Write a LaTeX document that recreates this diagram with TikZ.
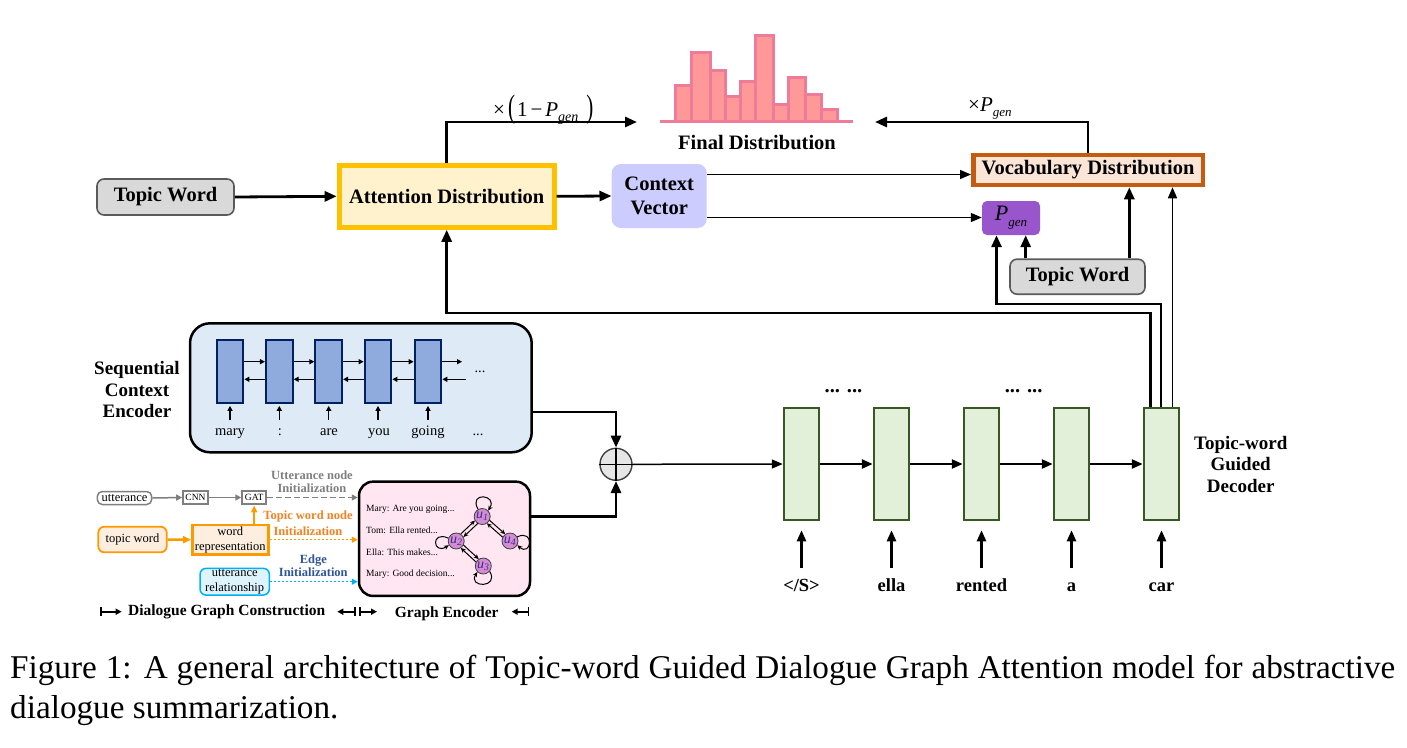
\documentclass[tikz,border=0pt]{standalone}
\usepackage{fontspec}
\setmainfont{Liberation Serif}
\usetikzlibrary{arrows.meta,calc}
\newcommand{\myfs}[2]{\fontsize{#1}{#2}\selectfont}
\definecolor{twfill}{HTML}{D9D9D9}
\definecolor{twdraw}{HTML}{5A5A5A}
\definecolor{attdraw}{HTML}{FFC000}
\definecolor{attfill}{HTML}{FFF2CC}
\definecolor{ctxfill}{HTML}{CCCCFF}
\definecolor{vocdraw}{HTML}{C55A11}
\definecolor{vocfill}{HTML}{FBE5D6}
\definecolor{pgenfill}{HTML}{9955CC}
\definecolor{histfill}{HTML}{FF9999}
\definecolor{histdraw}{HTML}{EE7B98}
\definecolor{encfill}{HTML}{DEEBF7}
\definecolor{cellfill}{HTML}{8FAADC}
\definecolor{celldraw}{HTML}{002060}
\definecolor{gencfill}{HTML}{FFE6F0}
\definecolor{dfill}{HTML}{E2F0D9}
\definecolor{ddraw}{HTML}{385723}
\definecolor{circfill}{HTML}{E7E6E6}
\definecolor{grayseven}{HTML}{7F7F7F}
\definecolor{orng}{HTML}{FF9900}
\definecolor{orngtxt}{HTML}{F5821F}
\definecolor{orngfill}{HTML}{FDEEDF}
\definecolor{cyanb}{HTML}{00B0F0}
\definecolor{cyanfill}{HTML}{DDF4FC}
\definecolor{edgetxt}{HTML}{2F5597}
\definecolor{unode}{HTML}{D38CD3}
\definecolor{utxt}{HTML}{3B2C8A}
\begin{document}
\begin{tikzpicture}[x=1pt,y=-1pt,
  bf/.style={font=\bfseries\myfs{20.5}{24}},
  bfs/.style={font=\bfseries\myfs{19}{21.6}, align=center},
  arr/.style={line width=2.8pt,-{Triangle[length=12pt,width=10pt]}},
  marr/.style={line width=2.4pt,-{Triangle[length=11pt,width=9pt]}},
  tarr/.style={line width=1.5pt,-{Triangle[length=11pt,width=9pt]}},
  sarr/.style={line width=1.4pt,-{Triangle[length=5pt,width=5pt]}},
  garr/.style={line width=1pt,-{Stealth[length=5pt,width=4.5pt]}},
  carr/.style={line width=1.5pt,-{Triangle[length=6pt,width=6pt]}},
  twbox/.style={bf, draw=twdraw, fill=twfill, line width=1.6pt, rounded corners=7pt, inner sep=0pt},
  ecell/.style={draw=celldraw, fill=cellfill, line width=2pt, minimum width=26.7pt, minimum height=63.3pt, inner sep=0pt},
  dcell/.style={draw=ddraw, fill=dfill, line width=2.5pt, minimum width=35pt, minimum height=112pt, inner sep=0pt},
  wd/.style={font=\myfs{14.5}{16}, inner sep=1pt},
  dw/.style={font=\bfseries\myfs{18.5}{20}, inner sep=1pt, anchor=base},
  gtxt/.style={font=\myfs{9.5}{11}, anchor=base west, inner sep=0pt},
  unodest/.style={circle, draw=black!75, fill=unode, line width=0.8pt, minimum size=16pt, inner sep=0pt, font=\myfs{14}{14}\itshape, text=utxt},
  small/.style={font=\myfs{12.5}{15}, inner sep=0pt, align=center},
  histline/.style={draw=histdraw, line width=3pt},
  scalemark/.style={line width=1.6pt}
]
\useasboundingbox (0,0) rectangle (1407,747);
\fill[white] (0,0) rectangle (1407,747);

% ---------- histogram ----------
\foreach \xa/\xb/\t in {675.7/691.7/85.7, 691.7/710/52.3, 710/725/70, 725/740/96, 740/755.7/81, 755.7/773.3/35.7, 773.3/788.3/104, 788.3/805/77.3, 805/821/94, 821/837.3/109}
  \draw[histline, fill=histfill] (\xa,121) rectangle (\xb,\t);
\draw[histline] (660,121) -- (853,121);
\node[bf] (fd) at (757,143) {Final Distribution};

% ---------- top row ----------
\node[twbox, minimum width=137pt, minimum height=36pt] (tw1) at (165.5,197) {Topic Word};
\node[bf, draw=attdraw, fill=attfill, line width=5pt, minimum width=215pt, minimum height=62pt, inner sep=0pt] (att) at (446.7,196.3) {Attention Distribution};
\node[bf, fill=ctxfill, rounded corners=9pt, minimum width=95pt, minimum height=64pt, align=center, inner sep=0pt] (ctx) at (659.2,196) {Context\\Vector};
\node[bf, draw=vocdraw, fill=vocfill, line width=4.5pt, minimum width=229.5pt, minimum height=30pt, inner sep=0pt] (voc) at (1088,170) {Vocabulary Distribution};
\node[fill=pgenfill, rounded corners=5pt, minimum width=58pt, minimum height=34pt, inner sep=0pt] (pgen) at (1011,218) {\myfs{22}{22}\textit{P}\raisebox{-6pt}{\myfs{13}{13}\textit{gen}}};
\node[twbox, minimum width=135pt, minimum height=35pt] (tw2) at (1077.5,276.7) {Topic Word};

\coordinate (fdl) at (637,122);
\coordinate (fdr) at (875,122);
\draw[arr] (tw1.east) -- (att.west);
\draw[arr] (att.east) -- (ctx.west);
\draw[arr] (att.north) |- (fdl);
\draw[arr] (voc.north) |- (fdr);
\node[anchor=base west, inner sep=0pt] (lab1) at (493,116) {\myfs{21}{21}×\hspace{3pt}\raisebox{-1.5pt}{\scalebox{1}[1.55]{(}}\hspace{2pt}1\hspace{3pt}−\hspace{3pt}\textit{P}\raisebox{-5pt}{\myfs{14}{14}\textit{gen}}\hspace{8pt}\raisebox{-1.5pt}{\scalebox{1}[1.55]{)}}};
\node[anchor=base west, inner sep=0pt] (lab2) at (968,111) {\myfs{21}{21}×\textit{P}\raisebox{-5pt}{\myfs{13}{13}\textit{gen}}};

\draw[tarr] (ctx.east |- 0,174.5) -- (voc.west |- 0,174.5);
\draw[tarr] (ctx.east |- 0,217.5) -- (pgen.west |- 0,217.5);
\coordinate (tpx) at (1025.7,0);
\coordinate (tvx) at (1129.3,0);
\draw[arr] (tpx |- tw2.north) -- (tpx |- pgen.south);
\draw[arr] (tvx |- tw2.north) -- (tvx |- voc.south);

% ---------- sequential context encoder ----------
\node[draw=black, fill=encfill, line width=2.5pt, rounded corners=20pt, minimum width=341.7pt, minimum height=129pt] (enc) at (360.85,387.8) {};
\foreach \i/\x in {1/230,2/279.3,3/328.7,4/378,5/428}
  \node[ecell] (c\i) at (\x,371.7) {};
\foreach \i/\j in {1/2,2/3,3/4,4/5} {
  \draw[sarr] ([yshift=10pt]c\i.east) -- ([yshift=10pt]c\j.west);
  \draw[sarr] ([yshift=-7.6pt]c\j.west) -- ([yshift=-7.6pt]c\i.east);
}
\coordinate (ef) at (462,361.7);
\coordinate (eb) at (465.5,379.3);
\draw[sarr] ([yshift=10pt]c5.east) -- (ef);
\draw[sarr] (eb) -- ([yshift=-7.6pt]c5.east);
\node[wd, anchor=base] (edots) at (480,372) {...};
\foreach \i/\x/\w in {1/230/mary,2/280/:,3/329/are,4/379/you,5/428/going} {
  \node[wd, anchor=base] (w\i) at (\x,435) {\w};
  \draw[sarr] ([yshift=-16pt]c\i.south) -- ([yshift=-1.5pt]c\i.south);
}
\node[wd, anchor=base] (w6) at (478,435) {...};
\node[bfs] (sce) at (137,389.5) {Sequential\\Context\\Encoder};

% ---------- graph encoder ----------
\node[draw=black, fill=gencfill, line width=2.5pt, rounded corners=14pt, minimum width=171pt, minimum height=114.3pt] (genc) at (444.5,538.8) {};
\node[gtxt] (g1) at (366,511) {Mary: Are you going...};
\node[gtxt] (g2) at (366,533.5) {Tom: Ella rented...};
\node[gtxt] (g3) at (366,555) {Ella: This makes...};
\node[gtxt] (g4) at (366,576) {Mary: Good decision...};
\node[unodest] (u1) at (482.2,516.5) {u\textsubscript{1}};
\node[unodest] (u2) at (456.2,541) {u\textsubscript{2}};
\node[unodest] (u4) at (510,541) {u\textsubscript{4}};
\node[unodest] (u3) at (483.3,566) {u\textsubscript{3}};
\foreach \a/\b in {u1/u2,u1/u4,u2/u3} {
  \draw[garr, shorten <=8pt, shorten >=8pt] ($(\a)!2pt!90:(\b)$) -- ($(\b)!2pt!-90:(\a)$);
  \draw[garr, shorten <=8pt, shorten >=8pt] ($(\b)!2pt!90:(\a)$) -- ($(\a)!2pt!-90:(\b)$);
}
\draw[garr] (u1.120) .. controls +(-10,-18) and +(10,-16) .. (u1.45);
\draw[garr] (u2.160) .. controls +(-18,-8) and +(-16,10) .. (u2.210);
\draw[garr] (u4.30) .. controls +(18,-8) and +(14,12) .. (u4.-30);
\draw[garr] (u3.-40) .. controls +(10,17) and +(-10,16) .. (u3.-135);

% ---------- combine ----------
\node[circle, draw=black!75, fill=circfill, line width=1.4pt, minimum size=32pt, inner sep=0pt] (circ) at (616,464.3) {};
\draw[line width=1.3pt] (circ.west) -- (circ.east);
\draw[line width=1.3pt] (circ.north) -- (circ.south);
\draw[arr] (enc.east |- 0,412) -| (circ.north);
\draw[arr] (genc.east |- 0,516.7) -| (circ.south);

% ---------- decoder ----------
\foreach \i/\x in {1/801.5,2/891.5,3/981.5,4/1071.5,5/1161.5}
  \node[dcell] (d\i) at (\x,464) {};
\draw[tarr] (circ.east) -- (d1.west);
\foreach \i/\j in {1/2,2/3,3/4,4/5}
  \draw[marr] (d\i.east) -- (d\j.west);
\foreach \i/\w in {1/{</S>},2/ella,3/rented,4/a,5/car} {
  \draw[marr] ([yshift=-47pt]d\i.south) -- ([yshift=-9pt]d\i.south);
  \node[dw] (dl\i) at ([yshift=-70pt]d\i.south) {\w};
}
\node[dw, font=\bfseries\myfs{20.5}{22}] (dd1) at (843.5,392) {... ...};
\node[dw, font=\bfseries\myfs{20.5}{22}] (dd2) at (1023.6,392) {... ...};
\node[bfs] (tgd) at (1240.7,464.3) {Topic-word\\Guided\\Decoder};

% feedback lines from last decoder cell
\coordinate (fb) at (446.7,313);
\coordinate (pb) at (996.5,304);
\coordinate (v3) at ([xshift=11pt]d5.north);
\draw[arr] ([xshift=-10.9pt]d5.north) |- (fb) -- (att.south);
\draw[arr] ([xshift=-0.5pt]d5.north) |- (pb) -- (pb |- pgen.south);
\draw[tarr] (v3) -- (v3 |- voc.south);

% ---------- dialogue graph construction ----------
\node[small, draw=grayseven, line width=1.5pt, rounded corners=5pt, minimum width=54.4pt, minimum height=13pt] (utt) at (124.5,498) {utterance};
\node[draw=grayseven, line width=2.2pt, minimum width=24.4pt, minimum height=13.6pt, inner sep=0pt, font=\myfs{9.5}{10}] (cnn) at (195.5,497.5) {CNN};
\node[draw=grayseven, line width=2.2pt, minimum width=23.7pt, minimum height=13.6pt, inner sep=0pt, font=\myfs{9.5}{10}] (gat) at (254.2,497.5) {GAT};
\node[small, draw=orng, fill=orngfill, line width=1.8pt, rounded corners=6pt, minimum width=68.4pt, minimum height=25.6pt] (tpw) at (132.5,539.5) {topic word};
\node[small, draw=orng, fill=orngfill, line width=2.5pt, minimum width=76pt, minimum height=29.3pt] (wrep) at (230.3,539.7) {word\\representation};
\node[small, draw=cyanb, fill=cyanfill, line width=1.5pt, rounded corners=6pt, minimum width=69.3pt, minimum height=26.7pt] (urel) at (234.7,581.7) {utterance\\relationship};

\draw[carr, color=grayseven] (utt.east) -- (cnn.west);
\draw[carr, color=grayseven] (cnn.east) -- (gat.west);
\draw[carr, dash pattern=on 6pt off 3pt, color=grayseven] (gat.east) -- (genc.west |- gat.east);
\draw[line width=2.5pt, color=orng, -{Triangle[length=8pt,width=7pt]}] (tpw.east) -- (wrep.west);
\draw[line width=2pt, color=orng, -{Triangle[length=7pt,width=6pt]}] (wrep.north -| gat.south) -- (gat.south);
\draw[carr, dash pattern=on 2pt off 2pt, color=orng] (wrep.east) -- (genc.west |- wrep.east);
\draw[carr, dash pattern=on 2pt off 2pt, color=cyanb] (urel.east) -- (genc.west |- urel.east);

\node[font=\bfseries\myfs{12.5}{13.4}, text=grayseven, align=center, inner sep=0pt] (lu) at (312,481.7) {Utterance node\\Initialization};
\node[font=\bfseries\myfs{12.5}{15.3}, text=orngtxt, align=center, inner sep=0pt] (lt) at (308,523.3) {Topic word node\\Initialization};
\node[font=\bfseries\myfs{12.5}{13.7}, text=edgetxt, align=center, inner sep=0pt] (le) at (313.3,565.8) {Edge\\Initialization};

% scale markers
\draw[scalemark, {Bar[width=9pt]}-{Triangle[length=6pt,width=6pt]}] (100,611.7) -- (121.7,611.7);
\node[font=\bfseries\myfs{15.5}{16}, inner sep=0pt] (dgc) at (226.7,611.7) {Dialogue Graph Construction};
\draw[scalemark, {Triangle[length=6pt,width=6pt]}-{Bar[width=9pt]}] (337.3,611.7) -- (355.5,611.7);
\draw[scalemark, {Bar[width=9pt]}-{Triangle[length=6pt,width=6pt]}] (359,611.7) -- (377,611.7);
\node[font=\bfseries\myfs{15.5}{16}, inner sep=0pt] (gel) at (446.7,613.3) {Graph Encoder};
\draw[scalemark, {Triangle[length=6pt,width=6pt]}-{Bar[width=9pt]}] (511.7,611.7) -- (529.3,611.7);

% ---------- caption ----------
\node[anchor=base west, inner sep=0pt, font=\myfs{33.2}{40}] (cap1) at (10,678) {\makebox[1385pt][s]{Figure 1: A general architecture of Topic-word Guided Dialogue Graph Attention model for abstractive}};
\node[anchor=base west, inner sep=0pt, font=\myfs{33.2}{40}] (cap2) at (10,718) {dialogue summarization.};
\end{tikzpicture}
\end{document}
